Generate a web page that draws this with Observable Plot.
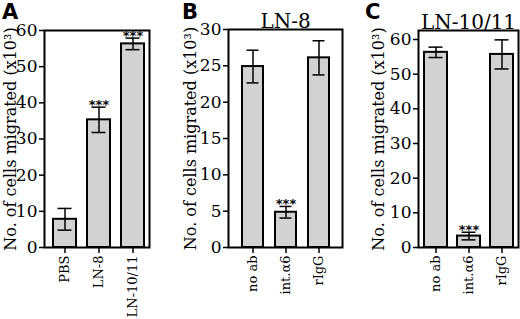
<!DOCTYPE html>
<html><head><meta charset="utf-8">
<script src="https://cdn.jsdelivr.net/npm/d3@7"></script>
<script src="https://cdn.jsdelivr.net/npm/@observablehq/plot@0.6"></script>
<style>
body{margin:0;background:#fff;}
#chart{position:relative;width:520px;height:319px;overflow:hidden;background:#fff;}
#chart svg{position:absolute;left:0;top:0;}
</style></head><body><div id="chart"></div>
<script>
// Panel A
const catsA = ["PBS", "LN-8", "LN-10/11"];
const meansA = [7.8, 35.3, 56.3];
const errsA = [3.0, 3.5, 1.6];
const sigA = ["", "***", "***"];
const ticksA = [0, 10, 20, 30, 40, 50, 60];
// Panel B (LN-8)
const catsB = ["no ab", "int.α6", "rIgG"];
const meansB = [24.9, 4.85, 26.1];
const errsB = [2.25, 0.8, 2.35];
const sigB = ["", "***", ""];
const ticksB = [0, 5, 10, 15, 20, 25, 30];
// Panel C (LN-10/11)
const catsC = ["no ab", "int.α6", "rIgG"];
const meansC = [56.3, 3.3, 55.7];
const errsC = [1.5, 1.1, 4.2];
const sigC = ["", "***", ""];
const ticksC = [0, 10, 20, 30, 40, 50, 60];

const yLabel = "No. of cells migrated (x10³)";
const serif = "DejaVu Serif";

function panel(o) {
  const data = o.cats.map((c, i) => ({c, v: o.means[i], lo: o.means[i] - o.errs[i], hi: o.means[i] + o.errs[i], s: o.sig[i]}));
  return Plot.plot({
    width: 520, height: 319,
    marginLeft: o.left, marginRight: 520 - o.right, marginTop: o.top, marginBottom: 72,
    style: {background: "none", fontFamily: serif, color: "black", overflow: "visible"},
    x: {domain: o.cats, range: o.xRange, paddingInner: o.pad, paddingOuter: 0},
    y: {domain: [0, o.yMax]},
    marks: [
      Plot.barY(data, {x: "c", y: "v", fill: "#d2d2d2", stroke: "black", strokeWidth: 2}),
      Plot.ruleX(data, {x: "c", y1: "lo", y2: "hi", stroke: "black", strokeWidth: 1.5}),
      Plot.tickY(data, {x: "c", y: "lo", insetLeft: 4.5, insetRight: 4.5, stroke: "black", strokeWidth: 1.5}),
      Plot.tickY(data, {x: "c", y: "hi", insetLeft: 4.5, insetRight: 4.5, stroke: "black", strokeWidth: 1.5}),
      Plot.text(data, {x: "c", y: "hi", text: "s", dy: 2, lineAnchor: "bottom", fontSize: 13, fontWeight: "bold", fontFamily: "DejaVu Sans"}),
      Plot.frame({stroke: "black", strokeWidth: 2}),
      Plot.axisY(o.ticks, {tickSize: 5, tickPadding: 2, fontSize: 17, label: null, strokeWidth: 1.5}),
      Plot.axisX({tickSize: 6, tickPadding: 2, tickRotate: -90, fontSize: 13, label: null, strokeWidth: 1.5}),
      Plot.text([yLabel], {frameAnchor: "left", textAnchor: "middle", rotate: -90, dx: o.labelDx, fontSize: 16}),
      o.title ? Plot.text([o.title], {frameAnchor: "top", dy: -16, fontSize: 20}) : null
    ]
  });
}

const chart = document.getElementById("chart");
chart.append(panel({cats: catsA, means: meansA, errs: errsA, sig: sigA, ticks: ticksA, yMax: 60,
  left: 44, right: 149, top: 30, xRange: [53, 145], pad: 0.31, labelDx: -34}));
chart.append(panel({cats: catsB, means: meansB, errs: errsB, sig: sigB, ticks: ticksB, yMax: 30,
  left: 228, right: 342, top: 29, xRange: [241, 331], pad: 0.35, labelDx: -38, title: "LN-8"}));
chart.append(panel({cats: catsC, means: meansC, errs: errsC, sig: sigC, ticks: ticksC, yMax: 62.6,
  left: 418, right: 518, top: 30, xRange: [423, 513], pad: 0.31, labelDx: -40, title: "LN-10/11"}));

// panel letters
const ns = "http://www.w3.org/2000/svg";
const lsvg = document.createElementNS(ns, "svg");
lsvg.setAttribute("width", 520); lsvg.setAttribute("height", 319);
[["A", 2], ["B", 182], ["C", 365]].forEach(([t, x]) => {
  const el = document.createElementNS(ns, "text");
  el.setAttribute("x", x); el.setAttribute("y", 19);
  el.setAttribute("font-family", "DejaVu Sans"); el.setAttribute("font-weight", "bold");
  el.setAttribute("font-size", 21);
  el.textContent = t;
  lsvg.append(el);
});
chart.append(lsvg);
</script></body></html>
